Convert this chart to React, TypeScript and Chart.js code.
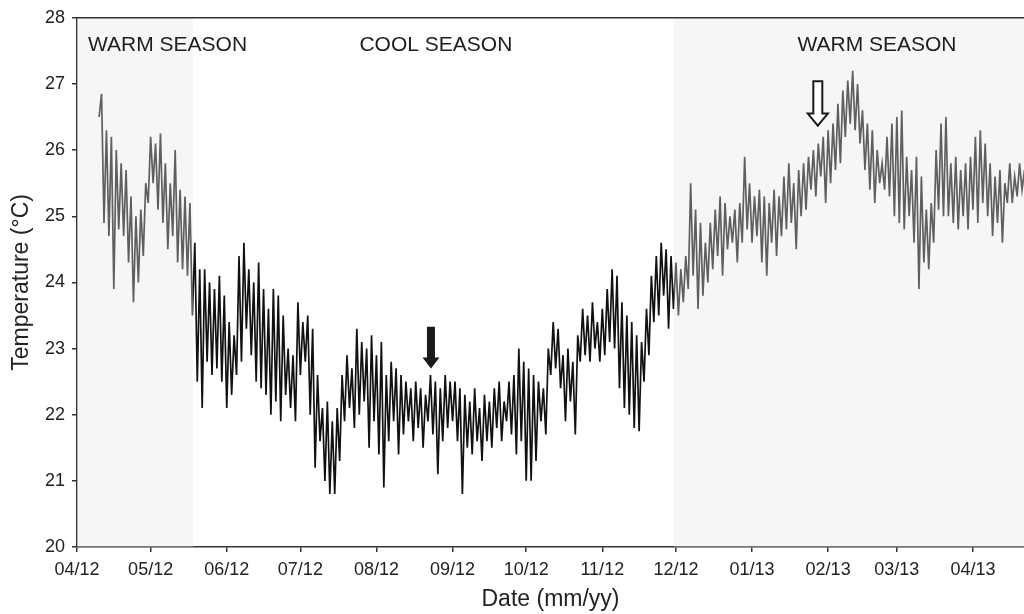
import { useEffect, useRef } from 'react';
import { Chart, registerables } from 'chart.js';

Chart.register(...registerables);

// Day offset (days after 1 Apr 2012) of the first reading; one reading per day
const START_DAY = 9;

// Daily temperature readings (°C), alternating daily extremes
const temperatures: number[] = [
  26.5, 26.85, 24.9, 26.3, 24.7, 26.2, 23.9, 26.0, 24.8, 25.8, 24.7,
  25.7, 24.3, 25.3, 23.7, 25.0, 24.0, 25.1, 24.4, 25.5, 25.2,
  26.2, 25.5, 26.1, 25.1, 26.25, 24.9, 25.8, 24.5, 25.5, 24.7,
  26.0, 24.3, 25.4, 24.2, 25.3, 24.1, 25.2, 23.5, 24.6, 22.5,
  24.2, 22.1, 24.2, 22.8, 24.0, 22.6, 23.9, 22.7, 24.1, 22.5,
  23.8, 22.1, 23.4, 22.3, 23.2, 22.6, 24.4, 22.8, 24.6, 23.3,
  24.2, 22.9, 24.0, 22.5, 24.3, 22.4, 23.9, 22.3, 23.6, 22.0,
  23.9, 22.2, 23.8, 21.9, 23.5, 22.3, 23.0, 22.1, 22.9, 21.9,
  23.7, 22.6, 23.4, 22.8, 23.5, 22.0, 23.3, 21.2, 22.6, 21.6,
  22.1, 21.0, 22.2, 20.8, 21.9, 20.8, 22.1, 21.3, 22.6, 21.9,
  22.9, 22.1, 22.7, 21.8, 23.3, 22.0, 23.1, 22.2, 23.0, 21.5,
  23.2, 21.9, 22.9, 21.4, 23.1, 20.9, 22.6, 21.6, 22.8, 21.9,
  22.7, 21.4, 22.6, 21.7, 22.5, 21.9, 22.4, 21.6, 22.5, 21.8,
  22.4, 21.5, 22.3, 21.9, 22.6, 21.7, 22.5, 21.1, 22.4, 21.6,
  22.6, 21.8, 22.5, 21.9, 22.5, 21.6, 22.4, 20.8, 22.3, 21.5,
  22.2, 21.4, 22.4, 21.6, 22.1, 21.3, 22.3, 21.6, 22.2, 21.5,
  22.4, 21.8, 22.5, 21.6, 22.2, 21.9, 22.5, 21.7, 22.6, 21.4,
  23.0, 21.6, 22.8, 21.0, 22.7, 21.0, 22.6, 21.3, 22.5, 21.9,
  22.4, 21.7, 23.0, 22.6, 23.4, 22.7, 23.3, 22.4, 22.9, 21.9,
  23.0, 22.2, 22.8, 21.7, 23.2, 22.8, 23.6, 22.9, 23.5, 22.8,
  23.7, 23.0, 23.4, 22.8, 23.6, 22.9, 23.9, 23.1, 24.2, 23.0,
  24.1, 22.4, 23.7, 22.1, 23.5, 22.0, 23.4, 21.8, 23.2, 21.75,
  23.1, 22.5, 23.6, 22.9, 24.1, 23.4, 24.4, 23.5, 24.6, 23.8,
  24.5, 23.3, 24.4, 23.6, 24.3, 23.5, 24.2, 23.7, 24.4, 23.9,
  25.5, 24.1, 25.1, 23.6, 24.9, 23.8, 24.6, 24.0, 24.9, 24.2,
  25.1, 24.4, 25.3, 24.1, 25.2, 24.5, 25.0, 24.6, 25.1, 24.3,
  25.2, 24.6, 25.9, 24.8, 25.5, 24.6, 25.3, 24.7, 25.4, 24.3,
  25.3, 24.1, 25.2, 24.6, 25.4, 24.4, 25.3, 24.7, 25.6, 24.8,
  25.8, 24.9, 25.5, 24.5, 25.7, 25.0, 25.8, 25.1, 25.9, 25.4,
  26.0, 25.3, 26.1, 25.6, 26.2, 25.2, 26.3, 25.5, 26.4, 25.7,
  26.7, 25.8, 26.9, 26.2, 27.05, 26.4, 27.2, 26.3, 27.0, 26.1,
  26.6, 25.7, 26.4, 25.4, 26.3, 25.2, 26.0, 25.5, 25.8, 25.4,
  26.2, 25.3, 26.4, 25.0, 26.5, 24.9, 26.6, 24.8, 25.9, 25.0,
  25.7, 24.6, 25.9, 23.9, 25.6, 24.3, 25.1, 24.2, 25.2, 24.6,
  26.0, 25.1, 26.4, 25.0, 26.5, 25.0, 25.8, 24.9, 25.9, 24.8,
  25.7, 25.0, 25.8, 24.8, 25.9, 25.1, 26.2, 24.9, 26.3, 25.2,
  26.1, 25.0, 25.8, 24.7, 25.6, 24.9, 25.7, 24.6, 25.5, 25.2,
  25.8, 25.2, 25.6, 25.3, 25.8, 25.4, 25.7,
];

// Month tick positions (days after 1 Apr 2012) and labels
const monthTickDays = [0, 30, 61, 91, 122, 153, 183, 214, 244, 275, 306, 334, 365];
const monthTickLabels = ['04/12', '05/12', '06/12', '07/12', '08/12', '09/12', '10/12', '11/12', '12/12', '01/13', '02/13', '03/13', '04/13'];

// Warm season spans (days after 1 Apr 2012)
const warmSeasonStarts = [0, 243.2];
const warmSeasonEnds = [47.3, 386];

// Season labels
const seasonNames = ['WARM SEASON', 'COOL SEASON', 'WARM SEASON'];
const seasonDays = [4.5, 146.2, 325.9];
const seasonAligns: CanvasTextAlign[] = ['left', 'center', 'center'];
const SEASON_LABEL_TEMP = 27.5;

// Arrows: day, tail temperature, tip temperature
const solidArrow = { day: 144.2, from: 23.33, to: 22.7 };
const hollowArrow = { day: 301.8, from: 27.04, to: 26.37 };

const X_MIN = 0;
const X_MAX = 385.8;
const Y_MIN = 20;
const Y_MAX = 28;

const FONT = '"Liberation Sans", Arial, Helvetica, sans-serif';

const decorPlugin = {
  id: 'decor',
  afterDatasetsDraw(chart: any) {
    const { ctx, chartArea: a, scales } = chart;
    const x = scales.x;
    const y = scales.y;
    ctx.save();
    ctx.beginPath();
    ctx.rect(a.left, a.top, a.right - a.left, a.bottom - a.top);
    ctx.clip();
    ctx.fillStyle = 'rgba(228,231,229,0.37)';
    for (let i = 0; i < warmSeasonStarts.length; i++) {
      const x0 = x.getPixelForValue(warmSeasonStarts[i]);
      const x1 = x.getPixelForValue(warmSeasonEnds[i]);
      ctx.fillRect(x0, a.top, x1 - x0, a.bottom - a.top);
    }
    ctx.restore();

    // season labels
    ctx.save();
    ctx.fillStyle = '#1e1e1e';
    ctx.font = `21px ${FONT}`;
    ctx.textBaseline = 'alphabetic';
    for (let i = 0; i < seasonNames.length; i++) {
      ctx.textAlign = seasonAligns[i];
      ctx.fillText(seasonNames[i], x.getPixelForValue(seasonDays[i]), y.getPixelForValue(SEASON_LABEL_TEMP));
    }
    ctx.restore();

    // solid arrow
    {
      const cx = x.getPixelForValue(solidArrow.day);
      const yt = y.getPixelForValue(solidArrow.from);
      const yp = y.getPixelForValue(solidArrow.to);
      const head = 11;
      ctx.save();
      ctx.fillStyle = '#1a1a1a';
      ctx.beginPath();
      ctx.moveTo(cx - 4, yt);
      ctx.lineTo(cx + 4, yt);
      ctx.lineTo(cx + 4, yp - head);
      ctx.lineTo(cx + 8.5, yp - head);
      ctx.lineTo(cx, yp);
      ctx.lineTo(cx - 8.5, yp - head);
      ctx.lineTo(cx - 4, yp - head);
      ctx.closePath();
      ctx.fill();
      ctx.restore();
    }
    // hollow arrow
    {
      const cx = x.getPixelForValue(hollowArrow.day);
      const yt = y.getPixelForValue(hollowArrow.from);
      const yp = y.getPixelForValue(hollowArrow.to);
      const head = 12;
      ctx.save();
      ctx.fillStyle = '#ffffff';
      ctx.strokeStyle = '#1a1a1a';
      ctx.lineWidth = 2;
      ctx.lineJoin = 'miter';
      ctx.beginPath();
      ctx.moveTo(cx - 4.5, yt);
      ctx.lineTo(cx + 4.5, yt);
      ctx.lineTo(cx + 4.5, yp - head);
      ctx.lineTo(cx + 10, yp - head);
      ctx.lineTo(cx, yp);
      ctx.lineTo(cx - 10, yp - head);
      ctx.lineTo(cx - 4.5, yp - head);
      ctx.closePath();
      ctx.fill();
      ctx.stroke();
      ctx.restore();
    }
  },
  afterDraw(chart: any) {
    const { ctx, chartArea: a } = chart;
    ctx.save();
    ctx.strokeStyle = '#333';
    ctx.lineWidth = 1.5;
    ctx.beginPath();
    ctx.moveTo(a.left, a.top);
    ctx.lineTo(a.right, a.top);
    ctx.stroke();
    ctx.restore();
  },
};

export default function App() {
  const canvasRef = useRef<HTMLCanvasElement | null>(null);

  useEffect(() => {
    if (!canvasRef.current) return;
    const points = temperatures.map((v, i) => ({ x: START_DAY + i, y: v }));
    const chart = new Chart(canvasRef.current, {
      type: 'line',
      data: {
        datasets: [
          {
            data: points,
            borderColor: '#111111',
            borderWidth: 1.7,
            pointRadius: 0,
            tension: 0,
            fill: false,
          },
        ],
      },
      options: {
        responsive: false,
        animation: false,
        devicePixelRatio: 1,
        layout: { padding: { top: 16, right: 0, bottom: 0, left: 0 } },
        plugins: {
          legend: { display: false },
          tooltip: { enabled: false },
        },
        scales: {
          x: {
            type: 'linear',
            min: X_MIN,
            max: X_MAX,
            z: 1,
            afterFit: (s: any) => {
              s.height = 67;
            },
            afterBuildTicks: (s: any) => {
              s.ticks = monthTickDays.map((v) => ({ value: v }));
            },
            grid: { drawOnChartArea: false, drawTicks: true, tickLength: 5, color: '#333', lineWidth: 1.5 },
            border: { display: true, color: '#333', width: 1.5 },
            ticks: {
              autoSkip: false,
              maxRotation: 0,
              padding: 7,
              color: '#222',
              font: { family: FONT, size: 18 },
              callback: (_v: any, i: number) => monthTickLabels[i],
            },
            title: {
              display: true,
              text: 'Date (mm/yy)',
              color: '#222',
              font: { family: FONT, size: 23 },
              padding: { top: 0, bottom: 1 },
            },
          },
          y: {
            type: 'linear',
            min: Y_MIN,
            max: Y_MAX,
            z: 1,
            afterFit: (s: any) => {
              s.width = 77;
            },
            grid: { drawOnChartArea: false, drawTicks: true, tickLength: 5, color: '#333', lineWidth: 1.5 },
            border: { display: true, color: '#333', width: 1.5 },
            ticks: {
              stepSize: 1,
              padding: 7,
              color: '#222',
              font: { family: FONT, size: 18 },
            },
            title: {
              display: true,
              text: 'Temperature (°C)',
              color: '#222',
              font: { family: FONT, size: 23 },
              padding: { top: 8, bottom: 0 },
            },
          },
        },
      },
      plugins: [decorPlugin],
    });
    return () => chart.destroy();
  }, []);

  return (
    <div style={{ position: 'fixed', left: 0, top: 0, width: 1024, height: 614, background: '#fff' }}>
      <canvas ref={canvasRef} width={1024} height={614} style={{ display: 'block' }} />
    </div>
  );
}
